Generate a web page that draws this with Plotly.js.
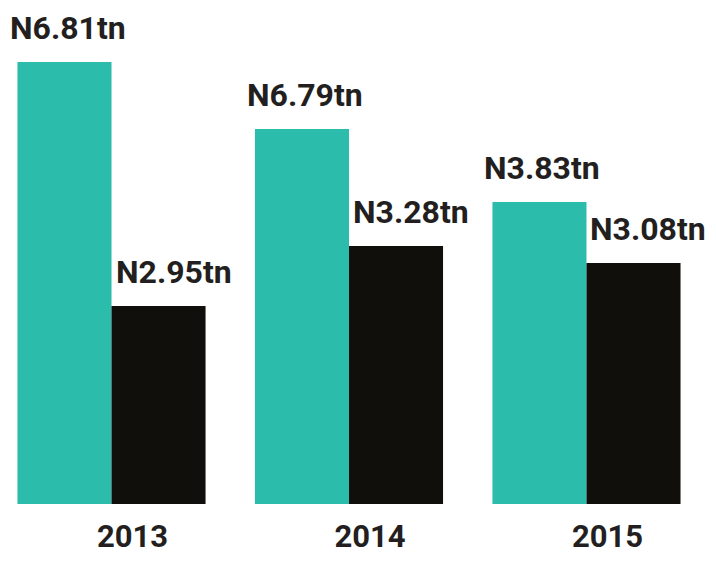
<!DOCTYPE html>
<html>
<head>
<meta charset="utf-8">
<script src="https://cdn.plot.ly/plotly-3.0.1.min.js"></script>
<style>
  html, body { margin: 0; padding: 0; background: #fff; }
  #chart { width: 716px; height: 563px; }
</style>
</head>
<body>
<div id="chart"></div>
<script>
// Years (categories)
const years = ['2013', '2014', '2015'];
// Bar heights as drawn in the picture (relative units)
const tealHeights = [44.2, 37.5, 30.2];
const blackHeights = [19.8, 25.8, 24.1];
// Value labels printed on the chart
const tealLabels = ['N6.81tn', 'N6.79tn', 'N3.83tn'];
const blackLabels = ['N2.95tn', 'N3.28tn', 'N3.08tn'];

const TEAL = '#2bbcab';
const DARK = '#110f0b';
const TEXT = '#231f20';
const FONT = 'Roboto, "Liberation Sans", Arial, sans-serif';

const xIdx = years.map((_, i) => i);

const traces = [
  { type: 'bar', x: xIdx, y: tealHeights, marker: { color: TEAL }, hoverinfo: 'skip' },
  { type: 'bar', x: xIdx, y: blackHeights, marker: { color: DARK }, hoverinfo: 'skip' }
];

const annotations = [];
xIdx.forEach((xi, i) => {
  annotations.push({
    x: xi, y: tealHeights[i], xref: 'x', yref: 'y',
    text: '<b>' + tealLabels[i] + '</b>', showarrow: false,
    xanchor: 'center', yanchor: 'bottom', xshift: -44, yshift: 13,
    font: { family: FONT, size: 32, color: TEXT }
  });
  annotations.push({
    x: xi, y: blackHeights[i], xref: 'x', yref: 'y',
    text: '<b>' + blackLabels[i] + '</b>', showarrow: false,
    xanchor: 'center', yanchor: 'bottom', xshift: 62, yshift: 13,
    font: { family: FONT, size: 32, color: TEXT }
  });
});

const layout = {
  width: 716, height: 563,
  margin: { l: 0, r: 0, t: 0, b: 59 },
  paper_bgcolor: '#ffffff', plot_bgcolor: '#ffffff',
  showlegend: false,
  barmode: 'group', bargap: 0.208, bargroupgap: 0,
  xaxis: {
    type: 'linear', range: [-0.4695, 2.5453],
    tickvals: xIdx, ticktext: years.map(y => '<b>' + y + '</b>'),
    showgrid: false, zeroline: false, showline: false, ticks: '',
    ticklabelshift: 21, ticklabelstandoff: 11,
    tickfont: { family: FONT, size: 31, color: TEXT }
  },
  yaxis: {
    range: [0, 50.4], visible: false, showgrid: false, zeroline: false
  },
  annotations: annotations
};

Plotly.newPlot('chart', traces, layout, { staticPlot: true, displayModeBar: false });
</script>
</body>
</html>
